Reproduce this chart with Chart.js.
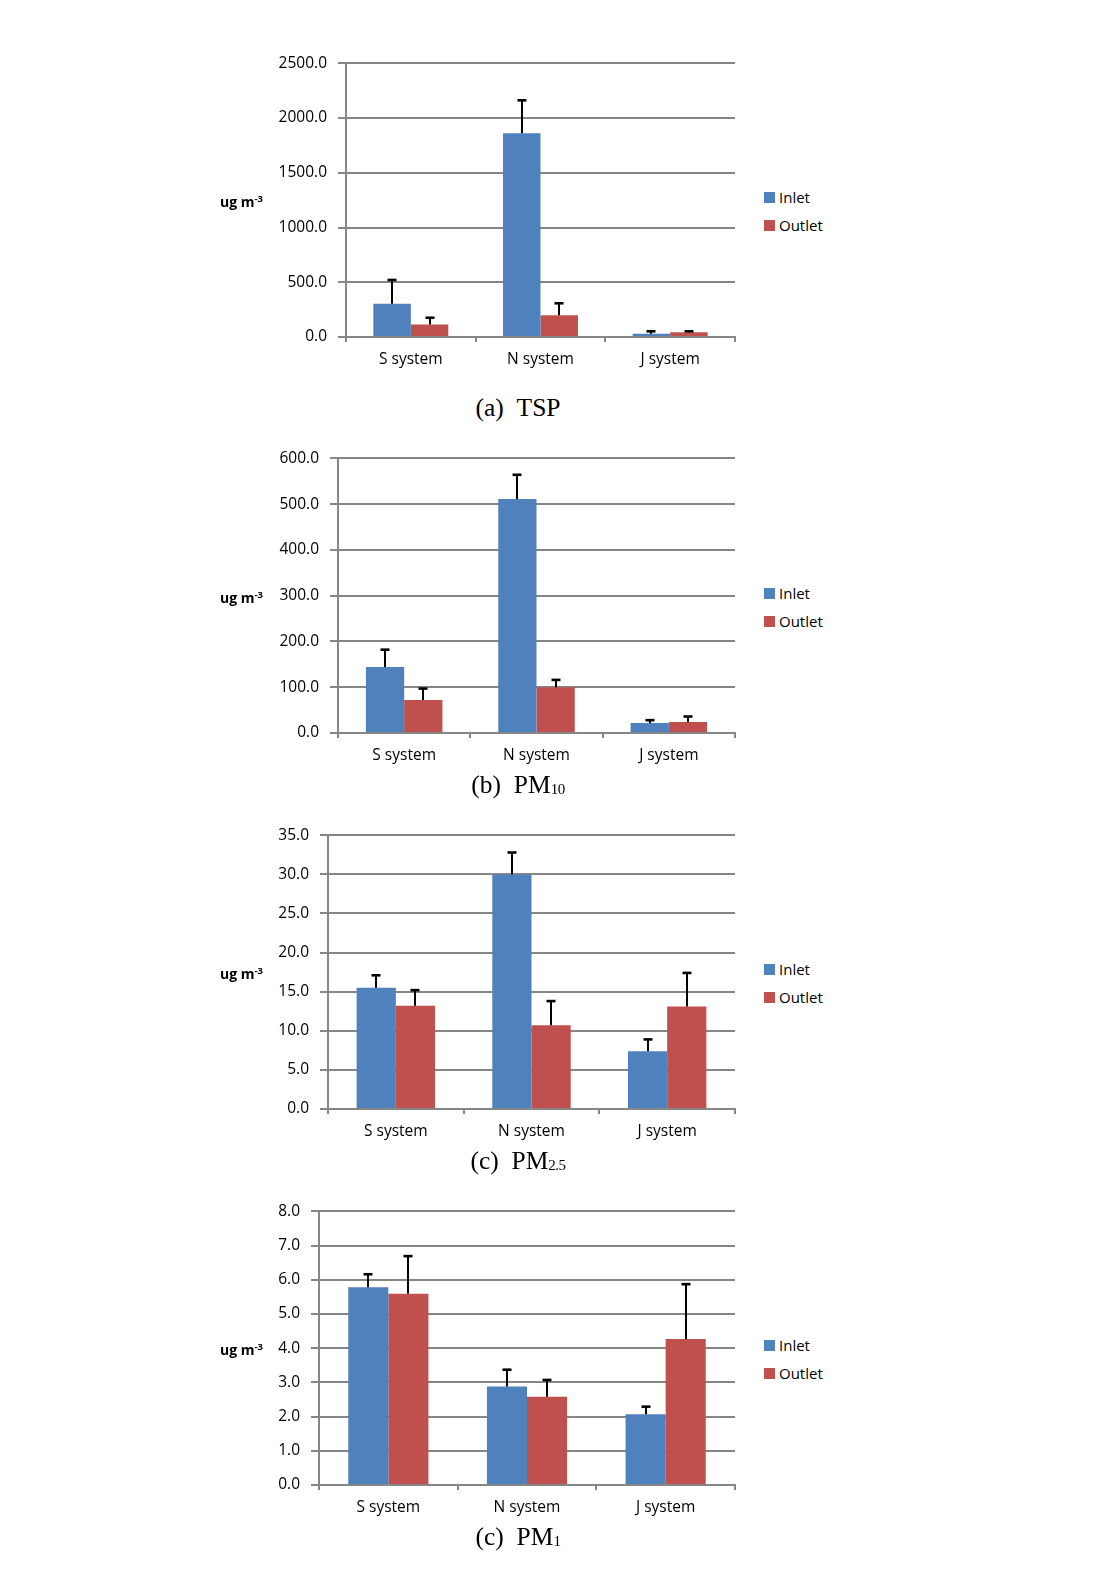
<!DOCTYPE html>
<html><head><meta charset="utf-8">
<script src="https://cdn.jsdelivr.net/npm/chart.js@4"></script>
<style>
body{margin:0;background:#fff;width:1099px;height:1586px;position:relative;overflow:hidden;font-family:"Open Sans",sans-serif;}
canvas{position:absolute;left:0;}
.leg{position:absolute;left:764px;font-size:15px;color:#000;height:16px;line-height:16px;padding-left:15px;white-space:nowrap;}
.leg i{position:absolute;left:0;top:2.5px;width:11px;height:11px;}
.unit{position:absolute;left:220px;font-weight:bold;font-size:14px;height:16px;line-height:16px;white-space:nowrap;color:#000;}
.unit sup{font-size:9.5px;vertical-align:5px;line-height:0;}
.cap{position:absolute;font-family:"Liberation Serif",serif;font-size:25.5px;transform:translate(-50%,-50%);white-space:nowrap;color:#000;}
.cap sub{font-size:15px;vertical-align:-1px;letter-spacing:-0.5px;}
</style>
</head><body>
<script>
// ---- data ----
const categories = ['S system', 'N system', 'J system'];
const seriesNames = ['Inlet', 'Outlet'];

const tspInlet = [303, 1860, 30];
const tspInletErr = [218, 302, 22];
const tspOutlet = [115, 198, 43];
const tspOutletErr = [61, 110, 9];
const tspTicks = [0, 2500, 500];

const pm10Inlet = [144, 511, 22];
const pm10InletErr = [38, 53, 6];
const pm10Outlet = [72, 100, 24];
const pm10OutletErr = [25, 16, 12];
const pm10Ticks = [0, 600, 100];

const pm25Inlet = [15.5, 30.0, 7.4];
const pm25InletErr = [1.6, 2.8, 1.5];
const pm25Outlet = [13.2, 10.7, 13.1];
const pm25OutletErr = [2.0, 3.1, 4.3];
const pm25Ticks = [0, 35, 5];

const pm1Inlet = [5.78, 2.88, 2.07];
const pm1InletErr = [0.38, 0.49, 0.22];
const pm1Outlet = [5.59, 2.58, 4.27];
const pm1OutletErr = [1.10, 0.49, 1.60];
const pm1Ticks = [0, 8, 1];

const captions = ['(a)&nbsp;&nbsp;TSP', '(b)&nbsp;&nbsp;PM<sub>10</sub>', '(c)&nbsp;&nbsp;PM<sub>2.5</sub>', '(c)&nbsp;&nbsp;PM<sub>1</sub>'];
const unitLabel = 'ug m<sup>-3</sup>';

// ---- layout / style ----
const BLUE = '#4F81BD', RED = '#C0504D', GRID = '#868686';
const FONT = {family: '"Open Sans", sans-serif', size: 15.5};

const panels = [
  {top: 63, zero: 337, axisX: 346, inlet: tspInlet, inErr: tspInletErr, outlet: tspOutlet, outErr: tspOutletErr, ticks: tspTicks, capDy: 71},
  {top: 458, zero: 733, axisX: 338, inlet: pm10Inlet, inErr: pm10InletErr, outlet: pm10Outlet, outErr: pm10OutletErr, ticks: pm10Ticks, capDy: 52},
  {top: 835, zero: 1109, axisX: 328, inlet: pm25Inlet, inErr: pm25InletErr, outlet: pm25Outlet, outErr: pm25OutletErr, ticks: pm25Ticks, capDy: 52},
  {top: 1211, zero: 1485, axisX: 319, inlet: pm1Inlet, inErr: pm1InletErr, outlet: pm1Outlet, outErr: pm1OutletErr, ticks: pm1Ticks, capDy: 52}
];

const errPlugin = {
  id: 'errbars',
  afterDatasetsDraw(chart) {
    const ctx = chart.ctx, ys = chart.scales.y;
    ctx.save();
    ctx.strokeStyle = '#000';
    chart.data.datasets.forEach((ds, di) => {
      const meta = chart.getDatasetMeta(di);
      meta.data.forEach((bar, i) => {
        const yTop = ys.getPixelForValue(ds.data[i] + ds.err[i]);
        const x = Math.round(bar.x);
        ctx.lineWidth = 2;
        ctx.beginPath();
        ctx.moveTo(x, bar.y);
        ctx.lineTo(x, yTop);
        ctx.stroke();
        ctx.lineWidth = 2.6;
        ctx.beginPath();
        ctx.moveTo(x - 4.5, yTop);
        ctx.lineTo(x + 4.5, yTop);
        ctx.stroke();
      });
    });
    ctx.restore();
  }
};

const W = 760, XAXH = 40;
panels.forEach((p, k) => {
  const c = document.createElement('canvas');
  let h = p.zero - p.top + 30 + XAXH;
  c.width = W; c.height = h;
  c.style.width = W + 'px'; c.style.height = h + 'px';
  c.style.top = (p.top - 10) + 'px';
  document.body.appendChild(c);

  const chart = new Chart(c, {
    type: 'bar',
    data: {
      labels: categories,
      datasets: [
        {label: seriesNames[0], data: p.inlet, err: p.inErr, backgroundColor: BLUE, borderWidth: 0},
        {label: seriesNames[1], data: p.outlet, err: p.outErr, backgroundColor: RED, borderWidth: 0}
      ]
    },
    options: {
      responsive: false, maintainAspectRatio: false, animation: false, devicePixelRatio: 1,
      layout: {padding: {top: 0, right: W - 735, left: 0, bottom: 0}},
      datasets: {bar: {categoryPercentage: 0.578, barPercentage: 1}},
      plugins: {legend: {display: false}, tooltip: {enabled: false}},
      scales: {
        x: {
          grid: {display: true, drawOnChartArea: false, tickLength: 5, color: GRID, lineWidth: 2, offset: true},
          border: {color: GRID, width: 2},
          ticks: {font: FONT, color: '#000', padding: 8, maxRotation: 0},
          afterFit: s => { s.height = XAXH; }
        },
        y: {
          min: p.ticks[0], max: p.ticks[1],
          ticks: {stepSize: p.ticks[2], font: FONT, color: '#000', padding: 11, callback: v => Number(v).toFixed(1)},
          grid: {color: GRID, lineWidth: 2, tickLength: 8},
          border: {color: GRID, width: 2},
          afterFit: s => { s.width = p.axisX; }
        }
      }
    },
    plugins: [errPlugin]
  });

  // align chart area exactly with the target plot region
  const ca = chart.chartArea;
  const extraBottom = h - ca.bottom;
  const newH = Math.round(ca.top + (p.zero - p.top) + extraBottom);
  chart.resize(W, newH);
  c.style.top = (p.top - chart.chartArea.top) + 'px';

  // legend
  [[seriesNames[0], BLUE, -140], [seriesNames[1], RED, -112]].forEach(([t, col, dy]) => {
    const d = document.createElement('div');
    d.className = 'leg';
    d.style.top = (p.zero + dy - 8) + 'px';
    d.innerHTML = '<i style="background:' + col + '"></i>' + t;
    document.body.appendChild(d);
  });
  // unit label
  const u = document.createElement('div');
  u.className = 'unit';
  u.style.top = (p.zero - 135.5 - 8) + 'px';
  u.innerHTML = unitLabel;
  document.body.appendChild(u);
  // caption
  const cp = document.createElement('div');
  cp.className = 'cap';
  cp.style.left = '518px';
  cp.style.top = (p.zero + p.capDy) + 'px';
  cp.innerHTML = captions[k];
  document.body.appendChild(cp);
});
</script>
</body></html>
